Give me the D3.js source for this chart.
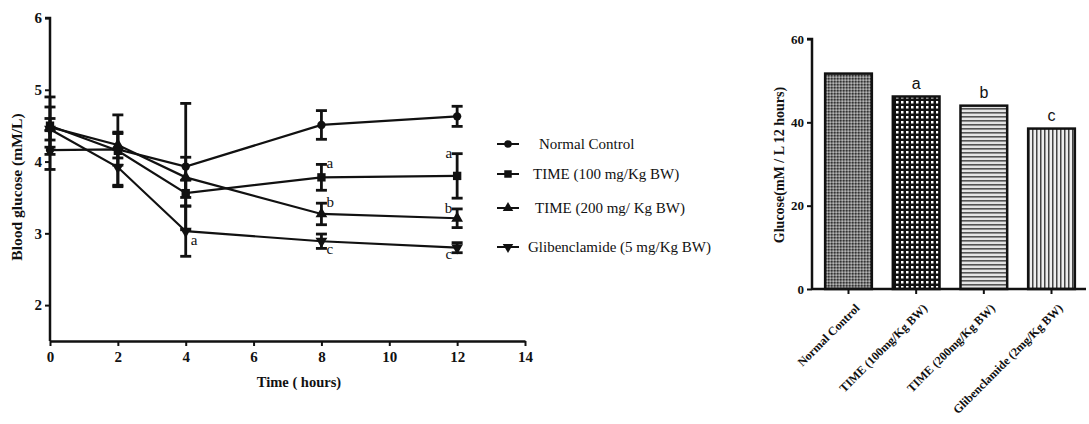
<!DOCTYPE html>
<html>
<head>
<meta charset="utf-8">
<script src="https://cdn.jsdelivr.net/npm/d3@7"></script>
<style>
  body { margin: 0; background: #fff; }
  svg { display: block; }
  text { font-family: "Liberation Serif", "Times New Roman", serif; fill: #111; }
</style>
</head>
<body>
<svg id="svg" width="1089" height="424"></svg>
<script>
// ---- line chart data ----
var hours = [0, 2, 4, 8, 12];
var seriesNames = ["Normal Control", "TIME (100 mg/Kg BW)", "TIME (200 mg/ Kg BW)", "Glibenclamide (5 mg/Kg BW)"];
var normalMean = [4.16, 4.17, 3.93, 4.51, 4.63];
var normalErr = [0.27, 0.22, 0.88, 0.2, 0.14];
var time100Mean = [4.5, 4.15, 3.56, 3.78, 3.8];
var time100Err = [0.4, 0.5, 0.18, 0.18, 0.31];
var time200Mean = [4.48, 4.23, 3.78, 3.27, 3.21];
var time200Err = [0.28, 0.18, 0.28, 0.15, 0.13];
var glibenMean = [4.45, 3.92, 3.03, 2.89, 2.8];
var glibenErr = [0.15, 0.25, 0.35, 0.1, 0.07];
var xTicks = [0, 2, 4, 6, 8, 10, 12, 14];
var yTicks = [2, 3, 4, 5, 6];
// significance letters: [series index, hour, letter, side]
var lineLetters = [
  [3, 4, "a", "right"],
  [1, 8, "a", "right"], [2, 8, "b", "right"], [3, 8, "c", "right"],
  [1, 12, "a", "left"], [2, 12, "b", "left"], [3, 12, "c", "left"]
];

// ---- bar chart data ----
var barNames = ["Normal Control", "TIME (100mg/Kg BW)", "TIME (200mg/Kg BW)", "Glibenclamide (2mg/Kg BW)"];
var barValues = [51.7, 46.2, 44.0, 38.5];
var barLetters = ["", "a", "b", "c"];
var barTicks = [0, 20, 40, 60];

var svg = d3.select("#svg");
var serif = "'Liberation Serif', 'Times New Roman', serif";

function styleAxis(ax, size) {
  ax.select(".domain").attr("stroke", "#111").attr("stroke-width", 2.5);
  ax.selectAll(".tick line").attr("stroke", "#111").attr("stroke-width", 2);
  ax.selectAll(".tick text")
    .style("font-family", serif)
    .style("font-weight", "bold")
    .style("font-size", size + "px")
    .style("fill", "#111");
}

// ================= left: line chart =================
var x = d3.scaleLinear().domain([0, 14]).range([50, 525]);
var y = d3.scaleLinear().domain([1.5, 6]).range([341, 18]);

var xAxis = svg.append("g")
  .attr("transform", "translate(0,341)")
  .call(d3.axisBottom(x).tickValues(xTicks).tickSize(5).tickSizeOuter(0).tickFormat(d3.format("d")));
var yAxis = svg.append("g")
  .attr("transform", "translate(50,0)")
  .call(d3.axisLeft(y).tickValues(yTicks).tickSize(5).tickSizeOuter(0).tickFormat(d3.format("d")));
styleAxis(xAxis, 15);
styleAxis(yAxis, 15);
xAxis.selectAll(".tick text").attr("dy", "0.85em");
yAxis.select(".domain").attr("d", "M-5,18H0V341");

svg.append("text")
  .attr("x", 299).attr("y", 387)
  .attr("text-anchor", "middle")
  .style("font-weight", "bold").style("font-size", "14.5px")
  .text("Time ( hours)");

svg.append("text")
  .attr("transform", "translate(22,187) rotate(-90)")
  .attr("text-anchor", "middle")
  .style("font-weight", "bold").style("font-size", "15.5px")
  .text("Blood glucose (mM/L)");

var series = [
  { name: seriesNames[0], mean: normalMean, err: normalErr, sym: d3.symbolCircle, size: 55, rot: 0 },
  { name: seriesNames[1], mean: time100Mean, err: time100Err, sym: d3.symbolSquare, size: 70, rot: 0 },
  { name: seriesNames[2], mean: time200Mean, err: time200Err, sym: d3.symbolTriangle, size: 60, rot: 0 },
  { name: seriesNames[3], mean: glibenMean, err: glibenErr, sym: d3.symbolTriangle, size: 60, rot: 180 }
];

var line = d3.line()
  .x(function(d) { return x(d.t); })
  .y(function(d) { return y(d.v); });

series.forEach(function(s) {
  var pts = hours.map(function(t, i) { return { t: t, v: s.mean[i], e: s.err[i] }; });
  svg.append("path")
    .attr("d", line(pts))
    .attr("fill", "none")
    .attr("stroke", "#111")
    .attr("stroke-width", 2.2);

  var eb = svg.append("g").selectAll("g").data(pts).enter().append("g");
  eb.append("line")
    .attr("x1", function(d) { return x(d.t); }).attr("x2", function(d) { return x(d.t); })
    .attr("y1", function(d) { return y(d.v + d.e); }).attr("y2", function(d) { return y(d.v - d.e); })
    .attr("stroke", "#111").attr("stroke-width", 2.8);
  [1, -1].forEach(function(sgn) {
    eb.append("line")
      .attr("x1", function(d) { return x(d.t) - 5.5; }).attr("x2", function(d) { return x(d.t) + 5.5; })
      .attr("y1", function(d) { return y(d.v + sgn * d.e); }).attr("y2", function(d) { return y(d.v + sgn * d.e); })
      .attr("stroke", "#111").attr("stroke-width", 2.8);
  });

  svg.append("g").selectAll("path").data(pts).enter().append("path")
    .attr("d", d3.symbol().type(s.sym).size(s.size))
    .attr("transform", function(d) { return "translate(" + x(d.t) + "," + y(d.v) + ") rotate(" + s.rot + ")"; })
    .attr("fill", "#111");
});

lineLetters.forEach(function(l) {
  var s = series[l[0]];
  var i = hours.indexOf(l[1]);
  var v = s.mean[i], e = s.err[i];
  var right = l[3] === "right";
  var ty = l[2] === "c" ? y(v - e) + 6 : y(v + e) + 4;
  if (l[1] === 4) ty = y(v) + 14;
  svg.append("text")
    .attr("x", x(l[1]) + (right ? 5 : -5))
    .attr("y", ty)
    .attr("text-anchor", right ? "start" : "end")
    .style("font-size", "15px")
    .style("fill", "#111")
    .text(l[2]);
});

// legend
var legendY = [144, 174, 208, 247];
var legendX = [539, 533, 535, 528];
series.forEach(function(s, i) {
  var g = svg.append("g").attr("transform", "translate(508," + legendY[i] + ")");
  g.append("line").attr("x1", -11).attr("x2", 11).attr("stroke", "#111").attr("stroke-width", 2);
  g.append("path")
    .attr("d", d3.symbol().type(s.sym).size(s.size * 0.8))
    .attr("transform", "rotate(" + s.rot + ")")
    .attr("fill", "#111");
  svg.append("text")
    .attr("x", legendX[i]).attr("y", legendY[i] + 5)
    .style("font-size", "15px")
    .text(s.name);
});

// ================= right: bar chart =================
var defs = svg.append("defs");
var p1 = defs.append("pattern").attr("id", "pat0").attr("patternUnits", "userSpaceOnUse").attr("width", 3).attr("height", 3);
p1.append("rect").attr("width", 3).attr("height", 3).attr("fill", "#7a7a7a");
p1.append("rect").attr("width", 1.5).attr("height", 1.5).attr("fill", "#333");
p1.append("rect").attr("x", 1.5).attr("y", 1.5).attr("width", 1.5).attr("height", 1.5).attr("fill", "#b5b5b5");
var p2 = defs.append("pattern").attr("id", "pat1").attr("patternUnits", "userSpaceOnUse").attr("width", 5).attr("height", 5);
p2.append("rect").attr("width", 5).attr("height", 5).attr("fill", "#111");
p2.append("rect").attr("x", 1).attr("y", 1).attr("width", 2.5).attr("height", 2.5).attr("fill", "#fff");
var p3 = defs.append("pattern").attr("id", "pat2").attr("patternUnits", "userSpaceOnUse").attr("width", 10).attr("height", 4);
p3.append("rect").attr("width", 10).attr("height", 4).attr("fill", "#e4e4e4");
p3.append("rect").attr("width", 10).attr("height", 1.6).attr("fill", "#555");
var p4 = defs.append("pattern").attr("id", "pat3").attr("patternUnits", "userSpaceOnUse").attr("width", 4).attr("height", 10);
p4.append("rect").attr("width", 4).attr("height", 10).attr("fill", "#eee");
p4.append("rect").attr("width", 1.5).attr("height", 10).attr("fill", "#444");

var xb = d3.scaleBand().domain(barNames).range([815, 1085]).paddingInner(0.31).paddingOuter(0.15);
var yb = d3.scaleLinear().domain([0, 60]).range([289, 39]);

svg.append("g").selectAll("rect").data(barValues).enter().append("rect")
  .attr("x", function(d, i) { return xb(barNames[i]); })
  .attr("y", function(d) { return yb(d); })
  .attr("width", xb.bandwidth())
  .attr("height", function(d) { return yb(0) - yb(d); })
  .attr("fill", function(d, i) { return "url(#pat" + i + ")"; })
  .attr("stroke", "#111")
  .attr("stroke-width", 2.5);

svg.append("g").selectAll("text").data(barValues).enter().append("text")
  .attr("x", function(d, i) { return xb(barNames[i]) + xb.bandwidth() / 2; })
  .attr("y", function(d) { return yb(d) - 8; })
  .attr("text-anchor", "middle")
  .style("font-family", "'Liberation Sans', Arial, sans-serif")
  .style("font-size", "16px")
  .text(function(d, i) { return barLetters[i]; });

var xbAxis = svg.append("g")
  .attr("transform", "translate(0,289)")
  .call(d3.axisBottom(xb).tickSize(5).tickSizeOuter(0));
var ybAxis = svg.append("g")
  .attr("transform", "translate(812,0)")
  .call(d3.axisLeft(yb).tickValues(barTicks).tickSize(5).tickSizeOuter(0));
styleAxis(xbAxis, 12);
styleAxis(ybAxis, 13);
xbAxis.select(".domain").attr("d", "M812,0H1086");
ybAxis.select(".domain").attr("d", "M-5,39H0V289");
xbAxis.selectAll(".tick text")
  .attr("text-anchor", "end")
  .attr("dy", "0.35em")
  .attr("transform", "translate(9,17) rotate(-45)")
  .attr("x", 0).attr("y", 0);

svg.append("text")
  .attr("transform", "translate(784,165) rotate(-90)")
  .attr("text-anchor", "middle")
  .style("font-weight", "bold").style("font-size", "14px")
  .text("Glucose(mM / L 12 hours)");
</script>
</body>
</html>
